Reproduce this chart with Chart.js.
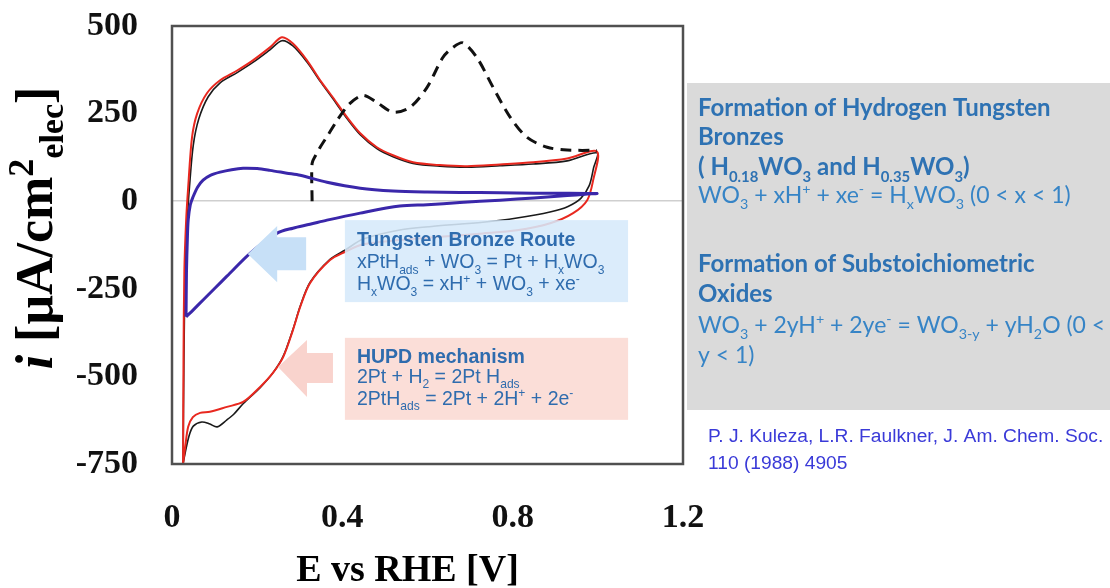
<!DOCTYPE html>
<html>
<head>
<meta charset="utf-8">
<script src="https://cdn.jsdelivr.net/npm/chart.js@4.4.0/dist/chart.umd.min.js"></script>
<style>
  body { margin: 0; background: #fff; }
  #wrap { position: relative; width: 1110px; height: 588px; }
</style>
</head>
<body>
<div id="wrap"><canvas id="cvChart"></canvas></div>
<script>
// axis ticks
const xTicks = [0, 0.4, 0.8, 1.2];
const yTicks = [-750, -500, -250, 0, 250, 500];

// red CV: anodic sweep then cathodic sweep (E in V, i in uA/cm2)
const redE = [0.026, 0.027, 0.029, 0.033, 0.038, 0.047, 0.059, 0.082, 0.113, 0.153, 0.19, 0.23, 0.258, 0.284, 0.317, 0.348, 0.378, 0.411, 0.442, 0.481, 0.519, 0.566, 0.629, 0.693, 0.77, 0.848, 0.928, 0.998,
  0.989, 0.975, 0.942, 0.888, 0.81, 0.73, 0.613, 0.535, 0.449, 0.406, 0.371, 0.324, 0.301, 0.284, 0.261, 0.237, 0.207, 0.167, 0.129, 0.089, 0.066, 0.049, 0.038, 0.031, 0.026];
const redI = [-750, -450, -200, -60, 40, 182, 250, 308, 345, 373, 402, 439, 468, 450, 402, 345, 296, 240, 194, 154, 131, 111, 103, 100, 105, 111, 122, 142,
  60, 3, -34, -63, -83, -92, -103, -111, -123, -145, -168, -234, -302, -368, -445, -490, -530, -573, -587, -601, -604, -616, -644, -701, -750];

// black CV
const blackE = [0.026, 0.028, 0.031, 0.036, 0.041, 0.05, 0.063, 0.085, 0.113, 0.153, 0.19, 0.23, 0.258, 0.284, 0.317, 0.348, 0.378, 0.411, 0.442, 0.481, 0.519, 0.566, 0.629, 0.693, 0.77, 0.848, 0.928, 0.998,
  0.99, 0.98, 0.96, 0.93, 0.89, 0.81, 0.73, 0.61, 0.535, 0.449, 0.406, 0.371, 0.324, 0.301, 0.284, 0.261, 0.237, 0.207, 0.167, 0.145, 0.129, 0.106, 0.089, 0.07, 0.05, 0.04, 0.031, 0.026];
const blackI = [-750, -450, -200, -50, 40, 160, 235, 298, 338, 367, 396, 432, 458, 443, 397, 342, 292, 236, 190, 150, 127, 108, 100, 97, 101, 106, 115, 138,
  95, 45, 8, -15, -30, -48, -60, -72, -82, -108, -140, -166, -232, -300, -366, -443, -490, -532, -578, -608, -624, -644, -636, -630, -642, -670, -718, -750];

// dashed black: first anodic scan
const dashE = [0.329, 0.329, 0.338, 0.348, 0.368, 0.388, 0.418, 0.449, 0.481, 0.519, 0.559, 0.599, 0.636, 0.66, 0.683, 0.716, 0.754, 0.794, 0.834, 0.881, 0.928, 0.998];
const dashI = [0, 108, 132, 154, 192, 231, 279, 302, 282, 254, 268, 325, 410, 439, 452, 410, 325, 240, 182, 154, 146, 145];

// blue CV
const blueE = [0.033, 0.034, 0.036, 0.038, 0.043, 0.049, 0.06, 0.073, 0.09, 0.113, 0.14, 0.167, 0.2, 0.23, 0.27, 0.301, 0.364, 0.442, 0.519, 0.599, 0.676, 0.77, 0.85, 0.928, 0.998,
  0.97, 0.928, 0.85, 0.77, 0.676, 0.599, 0.535, 0.442, 0.364, 0.324, 0.284, 0.247, 0.184, 0.129, 0.1, 0.073, 0.05, 0.033];
const blueI = [-330, -200, -110, -54, -10, 11, 40, 60, 74, 83, 90, 94, 93, 88, 80, 74, 54, 37, 29, 26, 25, 24, 23, 23, 22,
  20, 16, 9, 3, -4, -10, -14, -34, -54, -66, -77, -91, -148, -214, -249, -282, -310, -330];

function pts(xs, ys) { return xs.map((x, i) => ({ x: x, y: ys[i] })); }

// draw text with sub/superscripts
function rich(ctx, x, y, parts, size, weight, family, color) {
  ctx.fillStyle = color;
  ctx.textAlign = 'left';
  ctx.textBaseline = 'alphabetic';
  for (const p of parts) {
    const txt = Array.isArray(p) ? p[0] : p;
    const kind = Array.isArray(p) ? p[1] : '';
    const s = kind ? size * 0.62 : size;
    const dy = kind === 'sub' ? size * 0.28 : (kind === 'sup' ? -size * 0.38 : 0);
    ctx.font = weight + ' ' + s + 'px ' + family;
    ctx.fillText(txt, x, y + dy);
    x += ctx.measureText(txt).width;
  }
  return x;
}

const SANS = '"Liberation Sans", Arial, sans-serif';
const SERIF = '"Liberation Serif", "Times New Roman", serif';
const CAL = 'Lato, "Open Sans", sans-serif';

const extras = {
  id: 'extras',
  afterDatasetsDraw(chart) {
    const ctx = chart.ctx;
    const xs = chart.scales.x, ys = chart.scales.y;
    const px = v => xs.getPixelForValue(v), py = v => ys.getPixelForValue(v);
    ctx.save();

    // arrows
    function arrow(tipX, tipY, baseX, headTop, headBot, endX, shTop, shBot, col) {
      ctx.fillStyle = col;
      ctx.beginPath();
      ctx.moveTo(px(tipX), py(tipY));
      ctx.lineTo(px(baseX), py(headTop));
      ctx.lineTo(px(baseX), py(shTop));
      ctx.lineTo(px(endX), py(shTop));
      ctx.lineTo(px(endX), py(shBot));
      ctx.lineTo(px(baseX), py(shBot));
      ctx.lineTo(px(baseX), py(headBot));
      ctx.closePath();
      ctx.fill();
    }
    arrow(0.178, -151, 0.247, -71, -231, 0.315, -103, -197, '#c7e0f7');
    arrow(0.249, -473, 0.317, -396, -559, 0.378, -433, -519, '#f9d3cd');

    // boxes
    const bl = px(0.406), br = px(1.071);
    const bt = py(-54), bb = py(-288);
    ctx.fillStyle = 'rgba(214,233,251,0.88)';
    ctx.fillRect(bl, bt, br - bl, bb - bt);
    const pt = py(-390), pb = py(-624);
    ctx.fillStyle = 'rgba(251,218,212,0.9)';
    ctx.fillRect(bl, pt, br - bl, pb - pt);

    const tc = '#2f6cae';
    rich(ctx, bl + 12, bt + 26, ['Tungsten Bronze Route'], 19.5, 'bold', SANS, tc);
    rich(ctx, bl + 12, bt + 48, ['xPtH', ['ads', 'sub'], ' + WO', ['3', 'sub'], ' = Pt + H', ['x', 'sub'], 'WO', ['3', 'sub']], 19.5, 'normal', SANS, tc);
    rich(ctx, bl + 12, bt + 70, ['H', ['x', 'sub'], 'WO', ['3', 'sub'], ' = xH', ['+', 'sup'], ' + WO', ['3', 'sub'], ' + xe', ['-', 'sup']], 19.5, 'normal', SANS, tc);
    rich(ctx, bl + 12, pt + 25, ['HUPD mechanism'], 19.5, 'bold', SANS, tc);
    rich(ctx, bl + 12, pt + 45, ['2Pt + H', ['2', 'sub'], ' = 2Pt H', ['ads', 'sub']], 19.5, 'normal', SANS, tc);
    rich(ctx, bl + 12, pt + 67, ['2PtH', ['ads', 'sub'], ' = 2Pt + 2H', ['+', 'sup'], ' + 2e', ['-', 'sup']], 19.5, 'normal', SANS, tc);
    ctx.restore();
  },
  afterDraw(chart) {
    const ctx = chart.ctx;
    const a = chart.chartArea;
    ctx.save();
    // plot frame
    ctx.strokeStyle = '#505050';
    ctx.lineWidth = 2.5;
    ctx.strokeRect(a.left, a.top, a.right - a.left, a.bottom - a.top);

    // y axis title, rotated
    ctx.translate(52, (a.top + a.bottom) / 2 - 17);
    ctx.rotate(-Math.PI / 2);
    const yParts = [['i', 'italic bold', 52, 0], [' [\u03bcA/cm', 'bold', 52, 0], ['2', 'bold', 36, -19], ['elec', 'bold', 34, 11], [']', 'bold', 52, 0]];
    let w = 0;
    for (const p of yParts) { ctx.font = p[1] + ' ' + p[2] + 'px ' + SERIF; w += ctx.measureText(p[0]).width; }
    let x = -w / 2;
    ctx.fillStyle = '#000';
    ctx.textBaseline = 'alphabetic';
    for (const p of yParts) {
      ctx.font = p[1] + ' ' + p[2] + 'px ' + SERIF;
      ctx.fillText(p[0], x, p[3]);
      x += ctx.measureText(p[0]).width;
    }
    ctx.setTransform(1, 0, 0, 1, 0, 0);

    // x axis title
    ctx.font = 'bold 38px ' + SERIF;
    ctx.textAlign = 'center';
    ctx.fillText('E vs RHE [V]', (a.left + a.right) / 2 - 20, 581);

    // right panel
    ctx.fillStyle = '#dadada';
    ctx.fillRect(687, 83, 423, 327);
    const bc = '#2e72b3', nc = '#3684c6';
    rich(ctx, 698, 116, ['Formation of Hydrogen Tungsten'], 24, 'bold', CAL, bc);
    rich(ctx, 698, 145, ['Bronzes'], 24, 'bold', CAL, bc);
    rich(ctx, 698, 175, ['( H', ['0.18', 'sub'], 'WO', ['3', 'sub'], ' and H', ['0.35', 'sub'], 'WO', ['3', 'sub'], ')'], 24, 'bold', CAL, bc);
    rich(ctx, 698, 203, ['WO', ['3', 'sub'], ' + xH', ['+', 'sup'], ' + xe', ['-', 'sup'], ' = H', ['x', 'sub'], 'WO', ['3', 'sub'], ' (0 < x < 1)'], 23, 'normal', CAL, nc);
    rich(ctx, 698, 272, ['Formation of Substoichiometric'], 24, 'bold', CAL, bc);
    rich(ctx, 698, 302, ['Oxides'], 24, 'bold', CAL, bc);
    rich(ctx, 698, 333, ['WO', ['3', 'sub'], ' + 2yH', ['+', 'sup'], ' + 2ye', ['-', 'sup'], ' = WO', ['3-y', 'sub'], ' + yH', ['2', 'sub'], 'O (0 <'], 23, 'normal', CAL, nc);
    rich(ctx, 698, 363, ['y < 1)'], 23, 'normal', CAL, nc);

    // reference
    rich(ctx, 708, 442, ['P. J. Kuleza, L.R. Faulkner, J. Am. Chem. Soc.'], 19.2, 'normal', SANS, '#3a3ad8');
    rich(ctx, 708, 469, ['110 (1988) 4905'], 19.2, 'normal', SANS, '#3a3ad8');
    ctx.restore();
  }
};

new Chart(document.getElementById('cvChart'), {
  type: 'scatter',
  data: {
    datasets: [
      { data: pts(blueE, blueI), borderColor: '#3a27aa', borderWidth: 3, showLine: true, tension: 0.3 },
      { data: pts(dashE, dashI), borderColor: '#111', borderWidth: 3, borderDash: [11, 7], showLine: true, tension: 0.3 },
      { data: pts(redE, redI), borderColor: '#e8281f', borderWidth: 2, showLine: true, tension: 0.3 },
      { data: pts(blackE, blackI), borderColor: '#1a1a1a', borderWidth: 1.6, showLine: true, tension: 0.3 }
    ]
  },
  options: {
    responsive: true,
    maintainAspectRatio: false,
    animation: false,
    layout: { autoPadding: false, padding: { left: 72, right: 427, top: 26, bottom: 40 } },
    elements: { point: { radius: 0 } },
    plugins: { legend: { display: false }, tooltip: { enabled: false } },
    scales: {
      x: {
        type: 'linear', min: 0, max: 1.2,
        afterBuildTicks: s => { s.ticks = xTicks.map(v => ({ value: v })); },
        afterFit: s => { s.height = 84; },
        border: { display: false },
        grid: { display: false, drawTicks: false },
        ticks: { padding: 34, color: '#111', font: { family: SERIF, size: 34, weight: 'bold' }, callback: v => String(Math.round(v * 10) / 10) }
      },
      y: {
        min: -750, max: 500,
        afterBuildTicks: s => { s.ticks = yTicks.map(v => ({ value: v })); },
        afterFit: s => { s.width = 100; s.paddingTop = 0; s.paddingBottom = 0; },
        border: { display: false },
        grid: { drawTicks: false, lineWidth: 1.5, color: c => c.tick && c.tick.value === 0 ? '#cfcfcf' : 'rgba(0,0,0,0)' },
        ticks: { padding: 34, color: '#111', font: { family: SERIF, size: 34, weight: 'bold' } }
      }
    }
  },
  plugins: [extras]
});
</script>
</body>
</html>
